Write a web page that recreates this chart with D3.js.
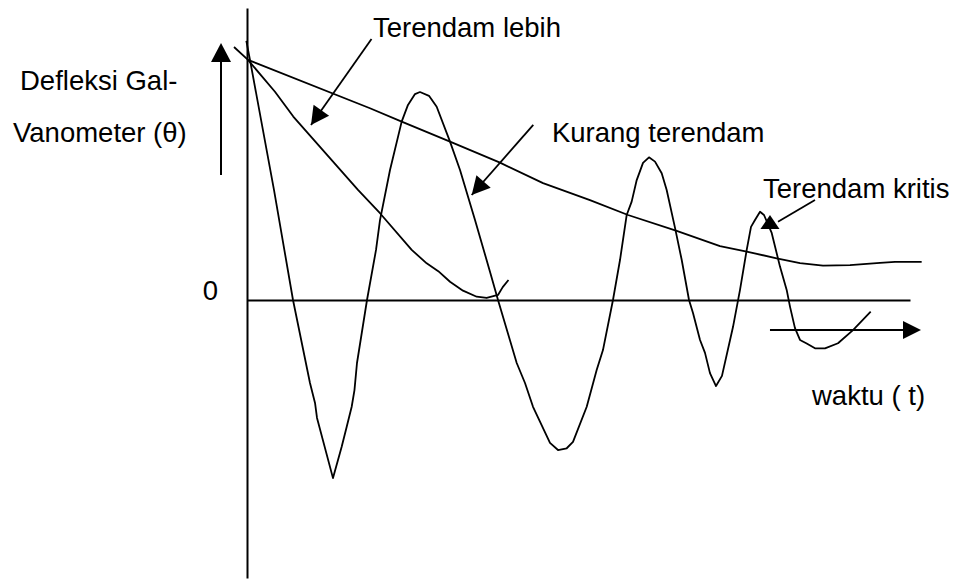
<!DOCTYPE html>
<html>
<head>
<meta charset="utf-8">
<script src="https://cdn.jsdelivr.net/npm/d3@7"></script>
<style>
  html, body { margin: 0; padding: 0; background: #fff; }
  svg { display: block; }
  text { font-family: "Liberation Sans", Arial, sans-serif; font-size: 27.5px; fill: #000; }
</style>
</head>
<body>
<svg id="chart" width="956" height="583"></svg>
<script>
// Galvanometer deflection θ against time t for three damping regimes.
// t runs 0..100 along the time axis, θ is scaled so the release point is 100.

// Under-damped response (decaying oscillation)
const underT = [-0.1, 0.45, 4.07, 6.94, 9.50, 10.26, 10.56, 12.97, 14.28, 15.04, 15.79, 16.21, 16.59,
  18.10, 19.46, 20.06, 21.57, 23.33, 24.28, 25.34, 26.09, 27.45, 28.61, 30.62, 32.13, 34.39, 36.65,
  37.86, 40.68, 41.93, 43.14, 45.70, 46.91, 48.22, 49.17, 51.24, 52.74, 53.69, 55.20, 56.26, 57.27,
  58.02, 58.78, 59.73, 60.63, 61.54, 62.55, 63.30, 64.56, 65.57, 66.67, 67.27, 68.33, 69.08, 69.83,
  70.74, 71.64, 73.30, 74.36, 75.37, 76.02, 76.62, 77.38, 77.98, 79.14, 80.39, 81.40, 81.90, 82.65,
  83.41, 84.42, 85.67, 87.18, 89.14, 91.40, 94.07];
const underTheta = [102.4, 94.9, 43.5, 0, -32.8, -40.7, -46.6, -70.4, -58.0, -50.1, -42.2, -35.6, -24.9,
  0, 19.8, 31.6, 51.4, 70.5, 77.1, 81.4, 82.2, 80.7, 76.4, 62.6, 51.4, 31.6, 11.2,
  0, -24.9, -32.8, -42.2, -56.5, -59.3, -58.6, -56.1, -42.2, -27.7, -19.8, 0, 15.8, 33.6,
  38.9, 47.4, 54.2, 56.4, 54.7, 50.1, 43.5, 28.5, 15.8, 0, -5.1, -15.8, -20.9, -28.9,
  -34.0, -30.0, -10.7, 4.0, 19.8, 28.9, 31.6, 34.9, 33.6, 26.5, 13.2, 4.0, -2.6, -11.1,
  -15.8, -17.2, -19.1, -19.1, -17.1, -11.9, -4.6];

// Slow, strongly damped response
const overT = [-1.96, 0.15, 18.55, 23.33, 30.62, 38.16, 44.65, 51.73, 57.47, 64.81, 71.34, 75.37,
  79.89, 83.41, 86.88, 90.95, 95.48, 97.74, 101.76];
const overTheta = [100, 94.9, 75.8, 70.5, 62.6, 54.3, 46.2, 39.5, 33.6, 27.3, 21.3, 19.1,
  16.5, 14.6, 13.6, 13.8, 14.7, 15.1, 15.1];

// Response that settles at zero quickest
const critT = [0.15, 4.22, 6.98, 16.74, 20.06, 24.84, 27.10, 28.85, 30.62, 32.58, 34.65, 36.15,
  37.86, 38.57, 39.44];
const critTheta = [94.9, 82.3, 72.5, 43.5, 34.3, 19.8, 14.5, 11.4, 7.2, 3.7, 1.3, 0.8,
  2.0, 5.1, 7.9];

// Curve labels and their leader arrows
const labelText = ["Terendam lebih", "Kurang terendam", "Terendam kritis"];
const labelT = [19.0, 46.0, 77.83];
const labelTheta = [103.95, 62.57, 40.4];
const leaderFrom = [[18.78, 103.2], [43.18, 69.2], [85.67, 39.5]];
const leaderTo = [[9.65, 69.2], [33.89, 41.5], [80.09, 30.9]];
const headTip = [[9.65, 69.2], [33.89, 41.5], [78.88, 33.6]];
const headUp = [false, false, true];

// Axis ticks and direction arrows
const thetaTicks = [0];
const thetaTickLabels = ["0"];
const timeArrow = [[78.88, -11.9], [101.66, -11.9]];
const thetaArrow = [[-3.92, 49.4], [-3.92, 101.6]];
const thetaAxisExtent = [-109.9, 115.4];

const svg = d3.select("#chart");
const x = d3.scaleLinear().domain([0, 100]).range([247, 910]);
const y = d3.scaleLinear().domain([-100, 100]).range([553, 47]);

// Axes
svg.append("g")
  .attr("transform", `translate(0,${y(0)})`)
  .call(d3.axisBottom(x).tickValues([]).tickSizeOuter(0))
  .call(g => g.select(".domain").attr("stroke", "#000").attr("stroke-width", 2));

const yAxisScale = d3.scaleLinear().domain(thetaAxisExtent).range(thetaAxisExtent.map(y));
svg.append("g")
  .attr("transform", `translate(${x(0)},0)`)
  .call(d3.axisLeft(yAxisScale).tickValues(thetaTicks)
    .tickFormat((d, i) => thetaTickLabels[i]).tickSize(0).tickSizeOuter(0).tickPadding(29))
  .call(g => g.select(".domain").attr("stroke", "#000").attr("stroke-width", 2))
  .call(g => g.selectAll("text")
    .attr("font-family", "Liberation Sans, Arial, sans-serif")
    .attr("font-size", "24px").attr("fill", "#000").attr("dy", "-0.02em"));

// Curves
const line = d3.line().x(d => x(d[0])).y(d => y(d[1]));
[[underT, underTheta], [overT, overTheta], [critT, critTheta]].forEach(([t, th]) => {
  svg.append("path")
    .attr("d", line(d3.zip(t, th)))
    .attr("fill", "none").attr("stroke", "#000")
    .attr("stroke-width", 1.8).attr("stroke-linejoin", "round");
});

// Arrow helper: shaft plus filled triangular head
function arrowHead(tip, dir, len, half) {
  const bx = tip[0] - dir[0] * len, by = tip[1] - dir[1] * len;
  const px = -dir[1] * half, py = dir[0] * half;
  return [[tip[0], tip[1]], [bx + px, by + py], [bx - px, by - py]];
}
function unit(a, b) {
  const dx = b[0] - a[0], dy = b[1] - a[1], l = Math.hypot(dx, dy);
  return [dx / l, dy / l];
}
function drawArrow(from, to, tip, dir, len, half, width) {
  svg.append("line")
    .attr("x1", from[0]).attr("y1", from[1]).attr("x2", to[0]).attr("y2", to[1])
    .attr("stroke", "#000").attr("stroke-width", width);
  svg.append("polygon")
    .attr("points", arrowHead(tip, dir, len, half).map(p => p.join(",")).join(" "))
    .attr("fill", "#000");
}
const px = p => [x(p[0]), y(p[1])];

// Direction arrows for θ and t
{
  const a = px(thetaArrow[0]), b = px(thetaArrow[1]);
  drawArrow(a, [b[0], b[1] + 10], b, unit(a, b), 19, 10, 2);
  const c = px(timeArrow[0]), d = px(timeArrow[1]);
  drawArrow(c, [d[0] - 10, d[1]], d, unit(c, d), 18, 9, 2);
}

// Leaders from labels to curves
labelText.forEach((txt, i) => {
  const a = px(leaderFrom[i]), b = px(leaderTo[i]), tip = px(headTip[i]);
  const dir = headUp[i] ? [0, -1] : unit(a, b);
  drawArrow(a, b, tip, dir, headUp[i] ? 14 : 18, 9.5, 1.8);
  svg.append("text").attr("x", x(labelT[i])).attr("y", y(labelTheta[i])).text(txt);
});

// Axis titles
svg.append("text").attr("x", 20).attr("y", 90).text("Defleksi Gal-");
svg.append("text").attr("x", 13).attr("y", 141.7).text("Vanometer (θ)");
svg.append("text").attr("x", 812).attr("y", 405).text("waktu ( t)");
</script>
</body>
</html>
